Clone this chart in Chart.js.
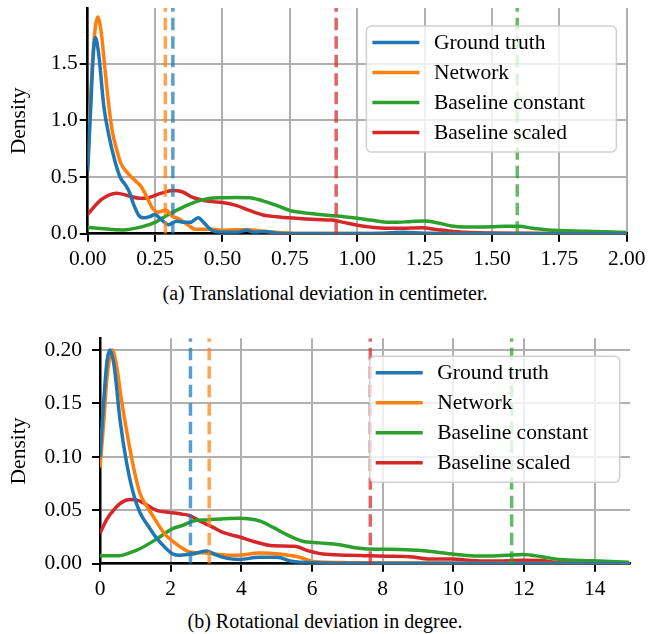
<!DOCTYPE html>
<html><head><meta charset="utf-8">
<script src="https://cdn.jsdelivr.net/npm/chart.js@4.4.1/dist/chart.umd.min.js"></script>
<style>
html,body{margin:0;padding:0;background:#fff;width:650px;height:634px;overflow:hidden;}
.wrap{position:absolute;left:0;width:650px;}
canvas{display:block;}
.cap{position:absolute;left:0;width:650px;text-align:center;font-family:'Liberation Serif',serif;font-size:20px;color:#000;line-height:24px;white-space:nowrap;}
</style></head><body>
<div class="wrap" style="top:0;height:275px"><canvas id="c1" width="650" height="275"></canvas></div>
<div class="cap" style="top:281px">(a) Translational deviation in centimeter.</div>
<div class="wrap" style="top:300px;height:300px"><canvas id="c2" width="650" height="300"></canvas></div>
<div class="cap" style="top:609px">(b) Rotational deviation in degree.</div>
<script>
// ---------- labels ----------
const seriesLabels = ['Ground truth', 'Network', 'Baseline constant', 'Baseline scaled'];

// ---------- (a) Translational deviation (cm) ----------
const transGtX  = [0, 0.01, 0.02, 0.028, 0.04, 0.06, 0.08, 0.10, 0.12, 0.14, 0.156, 0.17, 0.19, 0.21, 0.23, 0.25, 0.27, 0.30, 0.33, 0.36, 0.38, 0.41, 0.43, 0.46, 0.50, 0.55, 0.59, 0.62, 0.66, 0.70, 0.80, 1.00, 1.10, 1.17, 1.25, 1.40, 2.00];
const transGtY  = [0.55, 1.05, 1.55, 1.73, 1.60, 1.12, 0.85, 0.65, 0.50, 0.43, 0.36, 0.26, 0.16, 0.14, 0.15, 0.17, 0.13, 0.08, 0.11, 0.10, 0.10, 0.14, 0.10, 0.03, 0.012, 0.012, 0.03, 0.012, 0.02, 0.005, 0.002, 0.002, 0.005, 0.012, 0.003, 0.001, 0];
const transNetX = [0, 0.01, 0.02, 0.037, 0.05, 0.06, 0.076, 0.09, 0.11, 0.123, 0.15, 0.18, 0.20, 0.22, 0.242, 0.26, 0.29, 0.316, 0.34, 0.37, 0.40, 0.43, 0.46, 0.50, 0.55, 0.59, 0.66, 0.75, 0.85, 2.00];
const transNetY = [0.60, 1.15, 1.60, 1.91, 1.78, 1.55, 1.18, 0.92, 0.72, 0.62, 0.53, 0.46, 0.41, 0.32, 0.22, 0.19, 0.21, 0.15, 0.13, 0.08, 0.04, 0.04, 0.04, 0.03, 0.035, 0.035, 0.02, 0.005, 0.001, 0];
const transConX = [0, 0.05, 0.13, 0.20, 0.25, 0.30, 0.35, 0.40, 0.45, 0.50, 0.55, 0.60, 0.65, 0.70, 0.75, 0.80, 0.85, 0.90, 0.95, 1.00, 1.05, 1.10, 1.15, 1.20, 1.25, 1.30, 1.35, 1.40, 1.45, 1.50, 1.55, 1.60, 1.65, 1.70, 1.75, 1.85, 1.95, 2.00];
const transConY = [0.055, 0.045, 0.033, 0.06, 0.10, 0.17, 0.23, 0.28, 0.31, 0.318, 0.32, 0.318, 0.29, 0.25, 0.205, 0.185, 0.172, 0.16, 0.15, 0.137, 0.12, 0.103, 0.10, 0.108, 0.112, 0.095, 0.068, 0.06, 0.06, 0.062, 0.066, 0.066, 0.048, 0.035, 0.028, 0.022, 0.014, 0.01];
const transSclX = [0, 0.05, 0.107, 0.15, 0.193, 0.22, 0.27, 0.316, 0.35, 0.39, 0.45, 0.50, 0.55, 0.60, 0.65, 0.70, 0.76, 0.85, 0.907, 0.95, 1.00, 1.05, 1.11, 1.17, 1.24, 1.30, 1.34, 1.40, 1.50, 1.60, 1.70, 2.00];
const transSclY = [0.17, 0.30, 0.357, 0.335, 0.313, 0.315, 0.355, 0.38, 0.37, 0.32, 0.285, 0.275, 0.25, 0.205, 0.165, 0.15, 0.138, 0.125, 0.12, 0.10, 0.075, 0.058, 0.047, 0.048, 0.052, 0.035, 0.024, 0.012, 0.006, 0.004, 0.002, 0];
const transMeans = [0.316, 0.288, 1.594, 0.922];
const transXTicks = [0, 2, 0.25];      // min, max, step
const transYTicks = [0, 1.99, 0.5];

// ---------- (b) Rotational deviation (degree) ----------
const rotGtX  = [0, 0.1, 0.2, 0.28, 0.4, 0.565, 0.75, 0.95, 1.13, 1.35, 1.6, 1.85, 2.07, 2.26, 2.6, 3.0, 3.3, 3.6, 3.95, 4.5, 5.0, 5.46, 6.0, 8.0, 12.0, 15.0];
const rotGtY  = [0.10, 0.15, 0.19, 0.20, 0.185, 0.135, 0.095, 0.065, 0.048, 0.036, 0.024, 0.015, 0.009, 0.008, 0.009, 0.0118, 0.008, 0.005, 0.004, 0.006, 0.006, 0.002, 0.001, 0.0005, 0.0003, 0];
const rotNetX = [0, 0.1, 0.2, 0.35, 0.47, 0.6, 0.75, 0.95, 1.13, 1.3, 1.51, 1.7, 1.88, 2.1, 2.26, 2.54, 3.0, 3.58, 3.95, 4.5, 5.08, 5.65, 6.03, 7.0, 15.0];
const rotNetY = [0.09, 0.13, 0.175, 0.20, 0.185, 0.155, 0.125, 0.09, 0.066, 0.055, 0.044, 0.034, 0.026, 0.02, 0.016, 0.011, 0.01, 0.008, 0.008, 0.01, 0.009, 0.006, 0.002, 0.001, 0];
const rotConX = [0, 0.56, 0.85, 1.13, 1.6, 2.07, 2.35, 2.64, 3.02, 3.5, 3.95, 4.52, 4.9, 5.3, 5.74, 6.2, 6.78, 7.34, 7.8, 8.47, 9.0, 9.5, 9.98, 10.6, 11.11, 11.5, 11.96, 12.5, 13.0, 13.94, 14.97];
const rotConY = [0.0075, 0.0075, 0.0103, 0.014, 0.023, 0.033, 0.036, 0.04, 0.041, 0.042, 0.0425, 0.04, 0.034, 0.027, 0.021, 0.0195, 0.0178, 0.0144, 0.0135, 0.0134, 0.0125, 0.011, 0.009, 0.0073, 0.0072, 0.0078, 0.0087, 0.0065, 0.004, 0.0028, 0.0013];
const rotSclX = [0, 0.2, 0.38, 0.6, 0.85, 1.05, 1.22, 1.6, 1.98, 2.3, 2.54, 2.82, 3.2, 3.5, 3.95, 4.33, 4.9, 5.5, 5.9, 6.31, 6.97, 7.5, 8.1, 8.76, 9.3, 9.98, 10.5, 11.1, 12.0, 12.5, 12.8, 13.5, 15.0];
const rotSclY = [0.0285, 0.042, 0.05, 0.057, 0.06, 0.0595, 0.057, 0.05, 0.048, 0.0465, 0.045, 0.04, 0.034, 0.029, 0.025, 0.021, 0.0168, 0.0163, 0.012, 0.009, 0.008, 0.0075, 0.007, 0.0066, 0.0045, 0.0045, 0.003, 0.0025, 0.0032, 0.003, 0.0015, 0.0005, 0.0001];
const rotMeans = [2.56, 3.09, 11.65, 7.65];
const rotXTicks = [0, 15, 2];
const rotYTicks = [0, 0.211, 0.05];

// ---------- styling ----------
const colors = ['#1f77b4', '#ff7f0e', '#2ca02c', '#d62728'];
const meanColors = ['rgba(31,119,180,0.72)', 'rgba(255,127,14,0.72)', 'rgba(44,160,44,0.72)', 'rgba(214,39,40,0.72)'];
const FONT = "'Liberation Serif', 'Times New Roman', serif";

const boxLegend = {
  id: 'boxLegend',
  afterDatasetsDraw(chart) {
    const ctx = chart.ctx, a = chart.chartArea;
    const w = 250, h = 126;
    const x = a.right - 10.3 - w, y = a.top + 18;
    ctx.save();
    ctx.beginPath();
    if (ctx.roundRect) ctx.roundRect(x, y, w, h, 5); else ctx.rect(x, y, w, h);
    ctx.fillStyle = 'rgba(255,255,255,0.8)';
    ctx.fill();
    ctx.lineWidth = 1.5;
    ctx.strokeStyle = 'rgba(204,204,204,0.9)';
    ctx.stroke();
    const items = chart.data.datasets.filter(d => !d.isMean);
    ctx.font = '21.5px ' + FONT;
    ctx.textBaseline = 'middle';
    ctx.textAlign = 'left';
    items.forEach((d, i) => {
      const cy = y + 16.5 + i * 30;
      ctx.beginPath();
      ctx.moveTo(x + 6, cy);
      ctx.lineTo(x + 53, cy);
      ctx.lineWidth = 3.5;
      ctx.strokeStyle = d.borderColor;
      ctx.lineCap = 'butt';
      ctx.stroke();
      ctx.fillStyle = '#000';
      ctx.fillText(d.label, x + 67.5, cy + 1);
    });
    ctx.restore();
  }
};

function makeChart(id, series, means, xT, yT, opt) {
  const datasets = [];
  series.forEach((s, i) => {
    datasets.push({
      label: seriesLabels[i],
      data: s[0].map((v, j) => ({x: v, y: s[1][j]})),
      borderColor: colors[i], backgroundColor: colors[i],
      borderWidth: 3.5, pointRadius: 0, fill: false,
      cubicInterpolationMode: 'monotone', order: i
    });
  });
  means.forEach((m, i) => {
    datasets.push({
      label: '_mean', isMean: true,
      data: [{x: m, y: yT[0]}, {x: m, y: yT[1]}],
      borderColor: meanColors[i], borderWidth: 3.5, borderDash: [12.5, 6],
      pointRadius: 0, fill: false, order: -1
    });
  });
  return new Chart(document.getElementById(id), {
    type: 'line',
    data: {datasets},
    plugins: [boxLegend],
    options: {
      responsive: false, animation: false,
      layout: {padding: {left: 0, right: opt.padRight, top: opt.padTop, bottom: 0}},
      plugins: {legend: {display: false}, tooltip: {enabled: false}},
      scales: {
        x: {
          type: 'linear', min: xT[0], max: xT[1],
          grid: {color: '#b0b0b0', lineWidth: 2, tickLength: 8, tickColor: '#000', tickWidth: 2},
          border: {color: '#000', width: 2.5},
          ticks: {stepSize: xT[2], includeBounds: false, color: '#000', padding: 4.5, maxRotation: 0,
                  font: {family: FONT, size: 21.5}, callback: opt.xFmt},
          afterFit: s => { s.height = opt.xHeight; }
        },
        y: {
          type: 'linear', min: yT[0], max: yT[1],
          grid: {color: '#b0b0b0', lineWidth: 2, tickLength: 8, tickColor: '#000', tickWidth: 2},
          border: {color: '#000', width: 2.5},
          ticks: {stepSize: yT[2], includeBounds: false, color: '#000', padding: opt.yPad,
                  font: {family: FONT, size: 21.5}, callback: opt.yFmt},
          title: {display: true, text: 'Density', color: '#000', font: {family: FONT, size: 21.5},
                  padding: {top: 6, bottom: 0}},
          afterFit: s => { s.width = opt.yWidth; s.paddingTop = 0; s.paddingBottom = 0; }
        }
      }
    }
  });
}

makeChart('c1',
  [[transGtX, transGtY], [transNetX, transNetY], [transConX, transConY], [transSclX, transSclY]],
  transMeans, transXTicks, transYTicks,
  {padRight: 20.7, padTop: 8, xHeight: 41.3, yWidth: 87.7, yPad: 2,
   xFmt: v => Number(v).toFixed(2), yFmt: v => Number(v).toFixed(1)});

makeChart('c2',
  [[rotGtX, rotGtY], [rotNetX, rotNetY], [rotConX, rotConY], [rotSclX, rotSclY]],
  rotMeans, rotXTicks, rotYTicks,
  {padRight: 20, padTop: 38.3, xHeight: 36.3, yWidth: 100, yPad: 10,
   xFmt: v => String(Math.round(v)), yFmt: v => Number(v).toFixed(2)});
</script>
</body></html>
